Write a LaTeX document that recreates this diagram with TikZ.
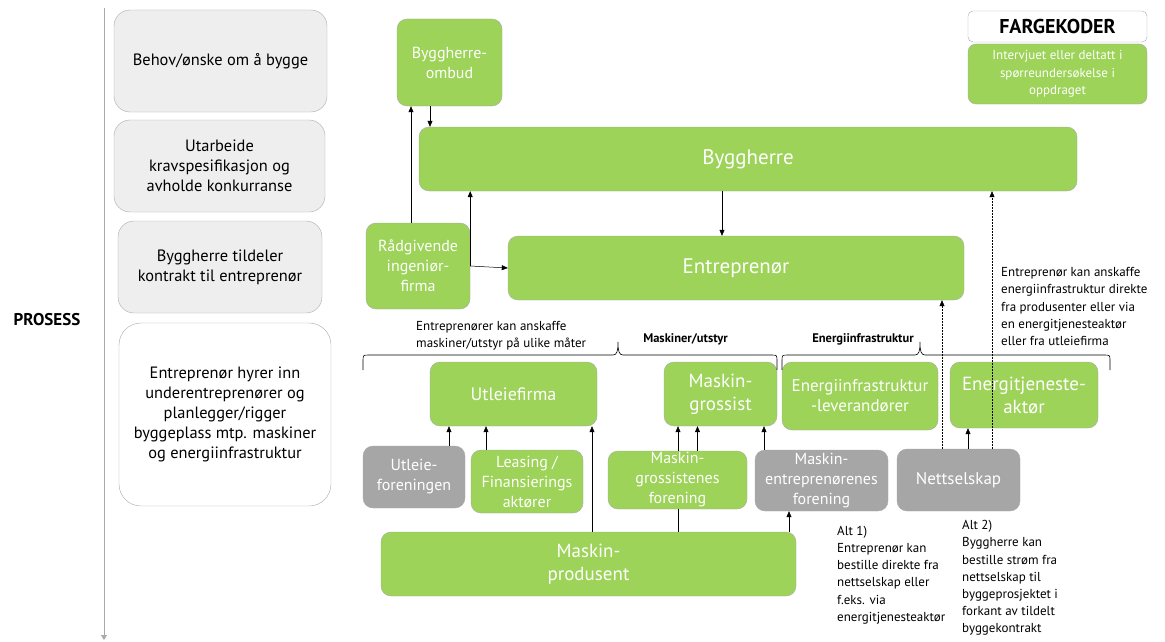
\documentclass[tikz,border=0pt]{standalone}
\usepackage{fontspec}
\setmainfont{PT Sans}
\usetikzlibrary{arrows.meta}

\definecolor{boxGreen}{RGB}{156,211,88}
\definecolor{boxGray}{RGB}{166,166,166}
\definecolor{procGray}{RGB}{238,238,238}
\definecolor{lineGray}{RGB}{170,170,170}

\tikzset{
  greenBox/.style={draw=lineGray, fill=boxGreen, rounded corners=10pt, text=white, align=center,
    inner sep=0pt, font=\fontsize{16}{20}\selectfont},
  grayBox/.style={greenBox, fill=boxGray},
  procBox/.style={draw=lineGray, fill=procGray, rounded corners=16pt, align=center,
    inner sep=0pt, font=\fontsize{16.4}{20}\selectfont},
  arr/.style={-{Triangle[length=6pt,width=5pt]}, line width=0.5pt},
  dotArr/.style={arr, dash pattern=on 1.5pt off 1.5pt},
  note/.style={align=left, anchor=west, inner sep=0pt, font=\fontsize{13}{17.2}\selectfont},
  groupLabel/.style={inner sep=0pt, font=\bfseries\fontsize{12.5}{14}\selectfont},
  braceLine/.style={line width=0.6pt},
}

\begin{document}
\begin{tikzpicture}[x=1pt, y=-1pt]
    \useasboundingbox (0,0) rectangle (1165,642);

    % prosess
    \node[font=\bfseries\fontsize{17}{20}\selectfont, inner sep=0pt] (prosess) at (47,320) {PROSESS};
    \coordinate (processTop) at (104,8);
    \coordinate (processEnd) at (104,640);
    \draw[lineGray, line width=0.8pt, -{Triangle[length=5pt,width=6pt]}] (processTop) -- (processEnd);

    \node[procBox, minimum width=213pt, minimum height=102pt] (behov) at (220.5,61) {Behov/ønske om å bygge};
    \node[procBox, minimum width=211pt, minimum height=92pt] (utarbeide) at (219.5,166) {Utarbeide\\kravspesifikasjon og\\avholde konkurranse};
    \node[procBox, minimum width=204pt, minimum height=92pt] (tildeler) at (220,267) {Byggherre tildeler\\kontrakt til entreprenør};
    \node[procBox, fill=white, rounded corners=22pt, minimum width=212pt, minimum height=183pt] (hyrer) at (225,414.5)
        {Entreprenør hyrer inn\\underentreprenører og\\planlegger/rigger\\byggeplass mtp. maskiner\\og energiinfrastruktur};

    % aktører
    \node[greenBox, minimum width=105pt, minimum height=87pt] (ombud) at (449.5,62.5) {Byggherre-\\ombud};
    \node[greenBox, minimum width=658pt, minimum height=64pt, font=\fontsize{21}{25}\selectfont] (byggherre) at (748,159) {Byggherre};
    \node[greenBox, minimum width=104pt, minimum height=86pt] (raadgivende) at (418,266) {Rådgivende\\ingeniør-\\firma};
    \node[greenBox, minimum width=456pt, minimum height=64pt, font=\fontsize{21}{25}\selectfont] (entreprenor) at (736,268) {Entreprenør};

    % fargekoder
    \node[draw=lineGray, rounded corners=5pt, minimum width=179pt, minimum height=31pt, inner sep=0pt,
        font=\bfseries\fontsize{20}{24}\selectfont] (fargekoder) at (1057.5,26.5) {FARGEKODER};
    \node[greenBox, rounded corners=8pt, minimum width=179pt, minimum height=60pt, font=\fontsize{13}{17.5}\selectfont]
        (legend) at (1057.5,74) {Intervjuet eller deltatt i\\spørreundersøkelse i\\oppdraget};

    % maskiner og energi
    \node[greenBox, minimum width=167pt, minimum height=64pt, font=\fontsize{18}{22}\selectfont] (utleiefirma) at (513.5,394) {Utleiefirma};
    \node[greenBox, minimum width=113pt, minimum height=64pt, font=\fontsize{19}{23}\selectfont] (grossist) at (720.5,394) {Maskin-\\grossist};
    \node[greenBox, minimum width=156pt, minimum height=68pt, font=\fontsize{17}{20}\selectfont] (eiLeverandor) at (860,396) {Energiinfrastruktur\\-leverandører};
    \node[greenBox, minimum width=148pt, minimum height=66pt, font=\fontsize{19}{23}\selectfont] (tjenesteaktor) at (1024,395) {Energitjeneste-\\aktør};

    \node[grayBox, minimum width=102pt, minimum height=62pt] (utleieForen) at (414,477) {Utleie-\\foreningen};
    \node[greenBox, minimum width=112pt, minimum height=63pt] (leasing) at (527,481.5) {Leasing /\\Finansierings\\aktører};
    \node[greenBox, minimum width=139pt, minimum height=58pt] (grossForen) at (677.5,480) {Maskin-\\grossistenes\\forening};
    \node[grayBox, minimum width=133pt, minimum height=61pt] (entrForen) at (821.5,480.5) {Maskin-\\entreprenørenes\\forening};
    \node[grayBox, minimum width=123pt, minimum height=62pt, font=\fontsize{17}{20}\selectfont] (nettselskap) at (958.5,480) {Nettselskap};

    \node[greenBox, minimum width=415pt, minimum height=64pt, font=\fontsize{19}{23}\selectfont] (produsent) at (588.5,564) {Maskin-\\produsent};

    % piler
    \draw[arr] (411,0 |- raadgivende.north) -- (411,0 |- ombud.south);
    \draw[arr] (430,0 |- ombud.south) -- (430,0 |- byggherre.north);
    \draw[arr] (raadgivende.east) -- (raadgivende.east |- byggherre.south);
    \draw[arr] (raadgivende.east) -- (entreprenor.west);
    \draw[arr] (722,0 |- byggherre.south) -- (722,0 |- entreprenor.north);
    \draw[dotArr] (942,0 |- nettselskap.north) -- (942,0 |- entreprenor.south);
    \draw[dotArr] (992,0 |- nettselskap.north) -- (992,0 |- byggherre.south);

    \draw[arr] (449,0 |- utleieForen.north) -- (449,0 |- utleiefirma.south);
    \draw[arr] (486,0 |- leasing.north) -- (486,0 |- utleiefirma.south);
    \draw[arr] (592,0 |- produsent.north) -- (592,0 |- utleiefirma.south);
    \draw[arr] (678,0 |- grossForen.north) -- (678,0 |- grossist.south);
    \draw[arr] (697.5,0 |- grossForen.north) -- (697.5,0 |- grossist.south);
    \draw[line width=0.5pt] (678,0 |- produsent.north) -- (678,0 |- grossForen.south);
    \draw[arr] (764,0 |- entrForen.north) -- (764,0 |- grossist.south);
    \draw[arr] (789,0 |- produsent.north) -- (789,0 |- entrForen.south);
    \draw[arr] (968,0 |- nettselskap.north) -- (968,0 |- tjenesteaktor.south);

    % klammer
    \draw[braceLine] (363,370) -- (363,361) .. controls (363,355) .. (369,355) -- (613,355)
        .. controls (617,355) and (618,351) .. (618,342) .. controls (618,351) and (619,355) .. (623,355)
        -- (771,355) .. controls (777,355) .. (777,361) -- (777,370);
    \draw[braceLine] (782,370) -- (782,361) .. controls (782,355) .. (788,355) -- (915,355)
        .. controls (919,355) and (920,351) .. (920,342) .. controls (920,351) and (921,355) .. (925,355)
        -- (1104,355) .. controls (1110,355) .. (1110,361) -- (1110,370);

    % tekster
    \node[note] (anskaffeNote) at (416,336) {Entreprenører kan anskaffe\\maskiner/utstyr på ulike måter};
    \node[groupLabel] (maskinerLabel) at (685.5,339) {Maskiner/utstyr};
    \node[groupLabel] (energiLabel) at (863,339) {Energiinfrastruktur};
    \node[note] (energiNote) at (1001,306.5) {Entreprenør kan anskaffe\\energiinfrastruktur direkte\\fra produsenter eller via\\en energitjenesteaktør\\eller fra utleiefirma};
    \node[note] (alt1) at (837,575) {Alt 1)\\Entreprenør kan\\bestille direkte fra\\nettselskap eller\\f.eks. via\\energitjenesteaktør};
    \node[note] (alt2) at (962,578) {Alt 2)\\Byggherre kan\\bestille strøm fra\\nettselskap til\\byggeprosjektet i\\forkant av tildelt\\byggekontrakt};
\end{tikzpicture}
\end{document}
